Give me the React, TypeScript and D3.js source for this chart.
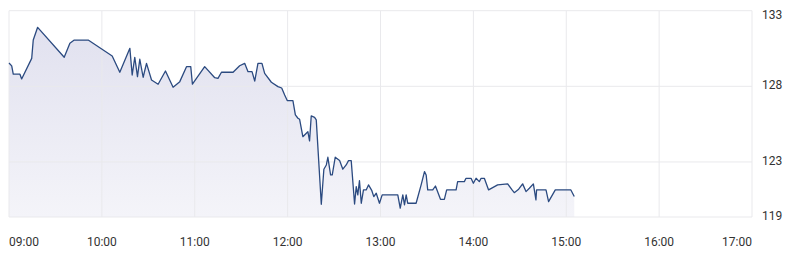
import React from "react";
import * as d3 from "d3";

const times: string[] = [
  "09:00:00","09:01:45","09:02:45","09:07:05","09:08:10","09:14:40","09:15:40","09:18:30","09:35:40","09:39:20",
  "09:42:10","09:51:10","10:06:40","10:11:35","10:18:05","10:19:35","10:21:15","10:23:00","10:24:30","10:26:40",
  "10:28:50","10:32:05","10:36:20","10:41:05","10:46:00","10:50:20","10:54:40","10:57:25","10:58:30","11:06:25",
  "11:12:55","11:15:00","11:17:15","11:24:45","11:29:00","11:32:15","11:34:25","11:37:00","11:38:45","11:40:50",
  "11:43:25","11:45:10","11:49:30","11:53:45","11:56:10","11:58:05","11:59:50","12:03:25","12:05:00","12:06:40",
  "12:07:45","12:09:50","12:12:05","12:13:05","12:14:10","12:15:15","12:17:25","12:18:30","12:21:45","12:23:25",
  "12:25:00","12:26:00","12:27:45","12:28:50","12:30:45","12:33:35","12:35:40","12:37:50","12:39:20","12:41:05",
  "12:43:15","12:44:20","12:45:20","12:46:25","12:47:35","12:49:00","12:50:45","12:52:15","12:54:25","12:55:40",
  "12:57:15","12:59:20","13:01:05","13:11:10","13:12:45","13:14:25","13:15:30","13:16:35","13:17:35","13:23:00",
  "13:26:15","13:28:25","13:29:30","13:30:30","13:33:45","13:35:30","13:38:45","13:41:15","13:42:45","13:48:50",
  "13:49:50","13:54:10","13:55:15","13:58:30","14:00:00","14:01:45","14:03:50","14:05:00","14:07:05","14:09:50",
  "14:15:40","14:22:10","14:25:00","14:26:25","14:29:15","14:31:50","14:34:00","14:36:10","14:38:45","14:40:25",
  "14:40:50","14:46:55","14:48:35","14:52:55","15:03:00","15:05:10",
];

const prices: number[] = [
  129.54,129.35,128.80,128.80,128.49,129.85,131.06,131.90,129.92,130.85,
  131.06,131.06,130.01,128.93,130.51,128.75,129.92,128.64,129.79,128.60,
  129.52,128.42,128.14,129.01,127.94,128.31,129.30,129.30,128.14,129.30,
  128.57,128.53,128.93,128.93,129.36,129.52,128.97,128.97,128.35,129.52,
  129.52,128.86,128.27,127.98,127.89,127.43,127.05,127.05,126.11,125.89,
  125.82,124.67,124.90,125.00,124.39,126.04,125.95,125.78,120.20,122.52,
  122.80,123.31,122.14,122.14,123.31,123.09,122.52,122.80,123.09,123.09,
  120.22,121.37,120.82,121.76,120.27,121.15,121.15,121.48,121.10,120.71,
  120.93,120.27,120.82,120.82,119.94,120.82,120.16,120.82,120.27,120.27,
  121.48,122.36,122.14,121.15,121.15,121.41,120.53,120.53,121.15,121.15,
  121.70,121.70,121.92,121.92,121.59,121.92,121.70,121.92,121.92,121.15,
  121.48,121.55,121.15,120.97,121.20,121.55,121.04,121.26,121.55,120.49,
  121.15,121.15,120.38,121.15,121.15,120.71,
];

const xTickLabels: string[] = ["09:00","10:00","11:00","12:00","13:00","14:00","15:00","16:00","17:00"];
const yTickValues: number[] = [133, 128, 123];
const yMin = 119.36;
const yMax = 133;

const W = 796;
const H = 267;
const left = 9;
const right = 752;
const top = 10.7;
const bottom = 217;

export default function App() {
  const parseT = d3.timeParse("%H:%M:%S");
  const parseH = d3.timeParse("%H:%M");
  const data = times.map((t, i) => ({ t: parseT(t) as Date, v: prices[i] }));
  const xTicks = xTickLabels.map((s) => parseH(s) as Date);

  const x = d3.scaleTime().domain([xTicks[0], xTicks[xTicks.length - 1]]).range([left, right]);
  const y = d3.scaleLinear().domain([yMin, yMax]).range([bottom, top]);

  const line = d3.line<{ t: Date; v: number }>().x((d) => x(d.t)).y((d) => y(d.v));
  const area = d3
    .area<{ t: Date; v: number }>()
    .x((d) => x(d.t))
    .y0(bottom)
    .y1((d) => y(d.v));

  const yLabels = [...yTickValues, yMin];
  const fmt = (v: number) => String(Math.round(v));

  return (
    <svg
      width={W}
      height={H}
      style={{ position: "absolute", left: 0, top: 0, background: "#fff" }}
      fontFamily="Roboto, sans-serif"
    >
      <defs>
        <linearGradient id="fillGrad" x1="0" y1="0" x2="0" y2="1">
          <stop offset="0%" stopColor="#e1e1ef" />
          <stop offset="100%" stopColor="#f4f4f9" />
        </linearGradient>
      </defs>
      <path d={area(data) || ""} fill="url(#fillGrad)" />
      {xTicks.map((t, i) => (
        <line key={"vx" + i} x1={x(t)} x2={x(t)} y1={top} y2={bottom} stroke="#e9e9ec" strokeWidth={1} />
      ))}
      {yLabels.map((v, i) => (
        <line key={"hy" + i} x1={left} x2={right} y1={y(v)} y2={y(v)} stroke="#e9e9ec" strokeWidth={1} />
      ))}
      <path d={line(data) || ""} fill="none" stroke="#2b4a80" strokeWidth={1.3} strokeLinejoin="round" />
      {xTicks.map((t, i) => (
        <text
          key={"xl" + i}
          x={x(t)}
          y={246}
          fontSize={12}
          fill="#333"
          textAnchor={i === 0 ? "start" : i === xTicks.length - 1 ? "end" : "middle"}
        >
          {xTickLabels[i]}
        </text>
      ))}
      {yLabels.map((v, i) => (
        <text
          key={"yl" + i}
          x={762}
          y={Math.max(y(v), 16)}
          fontSize={12}
          fill="#333"
          dominantBaseline="middle"
        >
          {fmt(v)}
        </text>
      ))}
    </svg>
  );
}
